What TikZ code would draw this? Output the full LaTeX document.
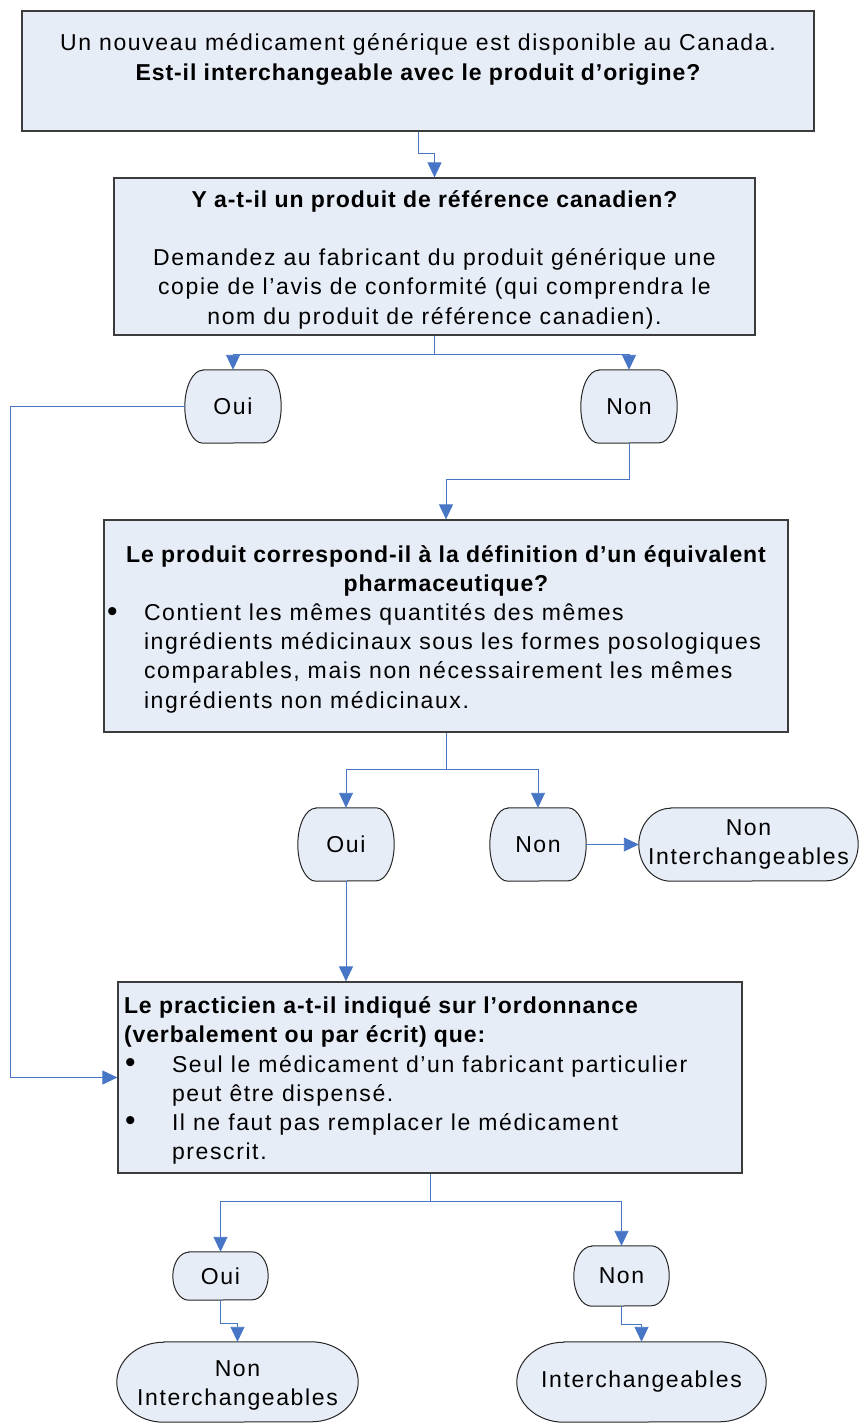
\documentclass[tikz,border=0pt]{standalone}
\usepackage{fontspec}
\setmainfont{Liberation Sans}
\newfontfamily\rg{Liberation Sans}[LetterSpace=7]
\newfontfamily\bd{Liberation Sans Bold}[LetterSpace=4]
\usetikzlibrary{arrows.meta,backgrounds,calc}
\definecolor{boxfill}{RGB}{231,237,247}
\definecolor{conncol}{RGB}{72,118,198}
\definecolor{edgecol}{RGB}{60,60,60}
\newcommand\tstrut{\rule{0pt}{27pt}}
\newcommand\bulmark{\raisebox{-0.5pt}{\scalebox{1.3}{\textbullet}}}
\newcommand\ctrl[2]{\makebox[#1][c]{#2}\strut}
\newcommand\lft[2]{\makebox[#1][l]{#2}\strut}
\newcommand\bul[3]{\makebox[#1][l]{\makebox[#2][l]{\hspace{1pt}\bulmark}#3}\strut}
\newcommand\ind[3]{\makebox[#1][l]{\hspace{#2}#3}\strut}
\newcommand\term[3]{\path[termline] ([xshift=#2pt]#1.north west) -- ([xshift=-#2pt]#1.north east) arc[start angle=90,end angle=-90,x radius=#2pt,y radius=#3pt] -- ([xshift=#2pt]#1.south west) arc[start angle=270,end angle=90,x radius=#2pt,y radius=#3pt] -- cycle;}
\tikzset{
  txt/.style={font=\rg\fontsize{23}{29.2}\selectfont},
  box/.style={txt, draw=edgecol, line width=1.2pt, fill=boxfill, inner xsep=0pt, inner ysep=0pt},
  termnode/.style={txt, inner sep=0pt, align=center},
  termline/.style={draw=black!85, line width=1pt, fill=boxfill},
  conn/.style={draw=conncol, line width=0.9pt, -{Triangle[length=15pt,width=14pt]}},
  plain/.style={draw=conncol, line width=0.9pt}
}
\begin{document}
\begin{tikzpicture}[x=1pt,y=-1pt]
\useasboundingbox (0,0) rectangle (859,1423);

% boxes
\node[box, minimum width=792pt, minimum height=120pt, align=center] (top) at (418,71)
 {\tstrut\strut Un nouveau médicament générique est disponible au Canada.\\
  {\bd Est-il interchangeable avec le produit d’origine?}\strut\\ \strut};

\node[box, minimum width=641pt, minimum height=157pt, align=center] (box2) at (434.5,256.5)
 {\tstrut{\bd Y a-t-il un produit de référence canadien?}\strut\\ \strut\\
  \strut Demandez au fabricant du produit générique une\\
  \strut copie de l’avis de conformité (qui comprendra le\\
  \strut nom du produit de référence canadien).};

\node[box, minimum width=684pt, minimum height=212pt, align=left, inner xsep=2pt] (box3) at (446,626)
 {\tstrut\ctrl{680pt}{\bd Le produit correspond-il à la définition d’un équivalent}\\
  \ctrl{680pt}{\bd pharmaceutique?}\\
  \bul{680pt}{38pt}{Contient les mêmes quantités des mêmes}\\
  \ind{680pt}{38pt}{ingrédients médicinaux sous les formes posologiques}\\
  \ind{680pt}{38pt}{comparables, mais non nécessairement les mêmes}\\
  \ind{680pt}{38pt}{ingrédients non médicinaux.}};

\node[box, minimum width=624pt, minimum height=191pt, align=left, inner xsep=6pt] (box4) at (430,1077.5)
 {\tstrut\lft{612pt}{\bd Le practicien a-t-il indiqué sur l’ordonnance}\\
  \lft{612pt}{\bd (verbalement ou par écrit) que:}\\
  \bul{612pt}{48pt}{Seul le médicament d’un fabricant particulier}\\
  \ind{612pt}{48pt}{peut être dispensé.}\\
  \bul{612pt}{48pt}{Il ne faut pas remplacer le médicament}\\
  \ind{612pt}{48pt}{prescrit.}};

% terminals
\node[termnode, minimum width=96pt, minimum height=73pt] (oui1) at (233,406.5) {Oui};
\node[termnode, minimum width=96pt, minimum height=73pt] (non1) at (629,406.5) {Non};
\node[termnode, minimum width=96pt, minimum height=73pt] (oui2) at (346,844.5) {Oui};
\node[termnode, minimum width=96pt, minimum height=73pt] (non2) at (538,844.5) {Non};
\node[termnode, minimum width=219pt, minimum height=73pt] (ni1) at (748.5,844.5) {\strut Non\\ \strut Interchangeables};
\node[termnode, minimum width=95pt, minimum height=48pt] (oui3) at (220.5,1276) {Oui};
\node[termnode, minimum width=95pt, minimum height=60pt] (non3) at (621.5,1276) {Non};
\node[termnode, minimum width=241pt, minimum height=80pt] (ni2) at (237.5,1382) {\tstrut\strut Non\\ \strut Interchangeables};
\node[termnode, minimum width=249pt, minimum height=80pt] (inter) at (641.5,1382) {Interchangeables};

\begin{pgfonlayer}{background}
\term{oui1}{18}{36.5}
\term{non1}{18}{36.5}
\term{oui2}{18}{36.5}
\term{non2}{18}{36.5}
\term{ni1}{32}{36.5}
\term{oui3}{16}{24}
\term{non3}{18}{30}
\term{ni2}{47}{40}
\term{inter}{47}{40}
\end{pgfonlayer}

% connectors
\draw[conn] (top.south) -- ([yshift=-22pt]top.south) -| (box2.north);
\coordinate (j2) at ([yshift=-19pt]box2.south);
\draw[plain] (box2.south) -- (j2);
\draw[conn] (j2) -| (oui1.north);
\draw[conn] (j2) -| (non1.north);
\coordinate (lc) at (10,406.5);
\draw[conn] (oui1.west) -- (lc) |- (box4.west);
\draw[conn] (non1.south) -- ([yshift=-36pt]non1.south) -| (box3.north);
\coordinate (j3) at ([yshift=-37pt]box3.south);
\draw[plain] (box3.south) -- (j3);
\draw[conn] (j3) -| (oui2.north);
\draw[conn] (j3) -| (non2.north);
\draw[conn] (non2.east) -- (ni1.west);
\draw[conn] (oui2.south) -- (oui2.south |- box4.north);
\coordinate (j4) at ([yshift=-28pt]box4.south);
\draw[plain] (box4.south) -- (j4);
\draw[conn] (j4) -| (oui3.north);
\draw[conn] (j4) -| (non3.north);
\draw[conn] (oui3.south) -- ([yshift=-23pt]oui3.south) -| (ni2.north);
\draw[conn] (non3.south) -- ([yshift=-18pt]non3.south) -| (inter.north);
\end{tikzpicture}
\end{document}
